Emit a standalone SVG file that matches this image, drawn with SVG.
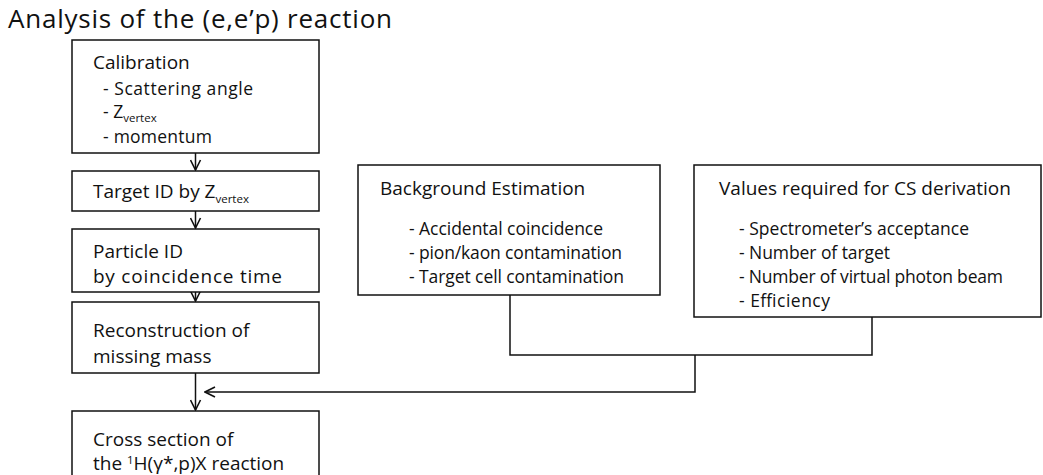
<svg xmlns="http://www.w3.org/2000/svg" width="1043" height="475" viewBox="0 0 1043 475">
<defs>
<style>
text{font-family:"Open Sans","DejaVu Sans",sans-serif;fill:#111;font-size:19px}
.title{font-size:26px}
.bl{font-size:17.5px}
.box{fill:#fff;stroke:#111;stroke-width:1.5}
.con{fill:none;stroke:#111;stroke-width:1.5}
.sub{font-size:11.5px}
</style>
<marker id="ah" viewBox="0 0 12 12" refX="11" refY="6" markerWidth="12" markerHeight="12" markerUnits="userSpaceOnUse" orient="auto">
<path d="M1,1 L11,6 L1,11" fill="none" stroke="#111" stroke-width="1.6"/>
</marker>
</defs>
<rect width="1043" height="475" fill="#fff"/>
<text class="title" x="8" y="28" textLength="384" lengthAdjust="spacing">Analysis of the (e,e’p) reaction</text>
<g id="connectors">
<line class="con" x1="195.5" y1="153" x2="195.5" y2="170" marker-end="url(#ah)"/>
<line class="con" x1="195.5" y1="211" x2="195.5" y2="228" marker-end="url(#ah)"/>
<line class="con" x1="195.5" y1="292" x2="195.5" y2="301" marker-end="url(#ah)"/>
<line class="con" x1="195.5" y1="373" x2="195.5" y2="410" marker-end="url(#ah)"/>
<polyline class="con" points="510,295 510,355 872,355 872,317"/>
<polyline class="con" points="695,355 695,392 205,392" marker-end="url(#ah)"/>
</g>
<g id="calibration">
<rect class="box" x="72" y="40" width="247" height="113"/>
<text x="93" y="69">Calibration</text>
<text class="bl" x="103" y="95" textLength="150" lengthAdjust="spacing">- Scattering angle</text>
<text class="bl" x="103" y="118">- Z<tspan class="sub" dy="4">vertex</tspan></text>
<text class="bl" x="103" y="143" textLength="109" lengthAdjust="spacing">- momentum</text>
</g>
<g id="target-id">
<rect class="box" x="72" y="171" width="247" height="40"/>
<text x="93" y="198">Target ID by Z<tspan class="sub" dy="5">vertex</tspan></text>
</g>
<g id="particle-id">
<rect class="box" x="72" y="229" width="247" height="63"/>
<text x="93" y="258">Particle ID</text>
<text x="93" y="283" textLength="189" lengthAdjust="spacing">by coincidence time</text>
</g>
<g id="reconstruction">
<rect class="box" x="72" y="302" width="247" height="71"/>
<text x="93" y="337">Reconstruction of</text>
<text x="93" y="363">missing mass</text>
</g>
<g id="cross-section">
<rect class="box" x="72" y="411" width="247" height="70"/>
<text x="93" y="446">Cross section of</text>
<text x="93" y="470">the <tspan class="sub" dy="-6">1</tspan><tspan dy="6">H(γ*,p)X reaction</tspan></text>
</g>
<g id="background">
<rect class="box" x="358" y="165" width="302" height="130"/>
<text x="380" y="195">Background Estimation</text>
<text class="bl" x="409" y="235" textLength="194" lengthAdjust="spacing">- Accidental coincidence</text>
<text class="bl" x="409" y="259" textLength="213" lengthAdjust="spacing">- pion/kaon contamination</text>
<text class="bl" x="409" y="283" textLength="215" lengthAdjust="spacing">- Target cell contamination</text>
</g>
<g id="values">
<rect class="box" x="694" y="165" width="347" height="152"/>
<text x="719" y="195">Values required for CS derivation</text>
<text class="bl" x="739" y="235" textLength="230" lengthAdjust="spacing">- Spectrometer’s acceptance</text>
<text class="bl" x="739" y="259" textLength="151" lengthAdjust="spacing">- Number of target</text>
<text class="bl" x="739" y="283" textLength="264" lengthAdjust="spacing">- Number of virtual photon beam</text>
<text class="bl" x="739" y="307" textLength="91" lengthAdjust="spacing">- Efficiency</text>
</g>
</svg>
